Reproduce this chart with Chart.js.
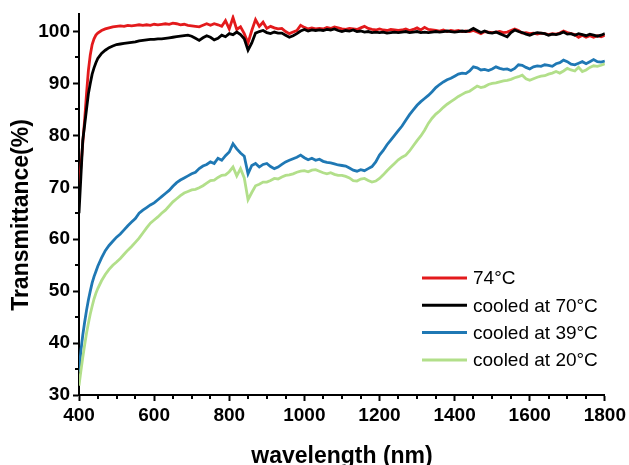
<!DOCTYPE html>
<html>
<head>
<meta charset="utf-8">
<script src="https://cdn.jsdelivr.net/npm/chart.js@4.4.0/dist/chart.umd.min.js"></script>
<style>
    html, body { margin: 0; padding: 0; background: #fff; }
</style>
</head>
<body>
<canvas id="specChart" width="629" height="465"></canvas>
<script>
// Wavelength grid (nm)
const wavelengths = [
    400, 405, 410, 415, 420, 425, 430, 435, 440, 445, 450, 460, 470, 480, 490,
    500, 510, 520, 530, 540, 550, 560, 570, 580, 590,
    600, 610, 620, 630, 640, 650, 660, 670, 680, 690,
    700, 710, 720, 730, 740, 750, 760, 770, 780, 790,
    800, 810, 820, 830, 840, 850, 860, 870, 880, 890,
    900, 910, 920, 930, 940, 950, 960, 970, 980, 990,
    1000, 1010, 1020, 1030, 1040, 1050, 1060, 1070, 1080, 1090,
    1100, 1110, 1120, 1130, 1140, 1150, 1160, 1170, 1180, 1190,
    1200, 1210, 1220, 1230, 1240, 1250, 1260, 1270, 1280, 1290,
    1300, 1310, 1320, 1330, 1340, 1350, 1360, 1370, 1380, 1390,
    1400, 1410, 1420, 1430, 1440, 1450, 1460, 1470, 1480, 1490,
    1500, 1510, 1520, 1530, 1540, 1550, 1560, 1570, 1580, 1590,
    1600, 1610, 1620, 1630, 1640, 1650, 1660, 1670, 1680, 1690,
    1700, 1710, 1720, 1730, 1740, 1750, 1760, 1770, 1780, 1790,
    1800
];

// Transmittance (%) per sample
const t74 = [
    70.0, 74.0, 78.5, 83.0, 88.0, 92.5, 95.5, 97.5, 98.6, 99.3, 99.7, 100.2, 100.5, 100.7, 100.9,
    101.0, 101.1, 101.0, 101.2, 101.1, 101.2, 101.3, 101.2, 101.3, 101.2,
    101.4, 101.3, 101.4, 101.5, 101.4, 101.6, 101.5, 101.3, 101.4, 101.2,
    101.1, 101.0, 100.9, 101.2, 101.5, 101.2, 101.5, 101.3, 101.0, 102.1,
    100.5, 102.7, 100.4, 100.9, 99.6, 97.8, 100.2, 102.3, 101.0, 101.8,
    100.6, 101.0, 100.7, 100.5, 100.6, 100.0, 99.6, 99.9, 100.2, 101.2,
    100.8, 100.5, 100.7, 100.5, 100.6, 100.5, 100.8, 100.6, 100.9, 100.7,
    100.5, 100.4, 100.6, 100.5, 100.4, 100.7, 101.0, 100.6, 100.4, 100.3,
    100.5, 100.3, 100.2, 100.4, 100.3, 100.2, 100.3, 100.5, 100.2, 100.4,
    100.7, 100.3, 100.8, 100.4, 100.3, 100.2, 100.1, 100.3, 100.0, 100.2,
    100.1, 100.2, 100.0, 100.1, 100.0, 100.2, 99.9, 99.6, 100.0, 99.9,
    99.8, 99.9, 100.0, 99.8, 99.9, 100.2, 100.5, 100.2, 99.7, 99.8,
    99.6, 99.7, 99.5, 99.7, 99.6, 99.4, 99.6, 99.5, 99.7, 100.1,
    99.8, 99.6, 99.4, 98.9, 99.3, 98.9, 99.2, 98.9, 99.2, 99.0,
    99.3
];

const t70 = [
    65.0, 72.0, 79.0, 82.0, 85.0, 88.0, 90.0, 91.8, 93.0, 94.0, 94.8, 95.8, 96.4, 96.9, 97.2,
    97.5, 97.6, 97.7, 97.8, 97.9, 98.0, 98.2, 98.3, 98.4, 98.5,
    98.5, 98.6, 98.6, 98.7, 98.8, 98.9, 99.0, 99.1, 99.2, 99.3,
    99.1, 98.7, 98.3, 98.8, 99.2, 98.9, 98.4, 98.7, 99.3, 99.0,
    99.6, 99.4, 99.9, 99.4, 98.6, 96.4, 97.8, 99.7, 100.0, 100.2,
    99.8, 99.6, 99.9, 99.7, 99.7, 99.3, 98.9, 99.2, 99.6, 100.1,
    100.4, 100.1, 100.3, 100.2, 100.3, 100.2, 100.4, 100.3, 100.5, 100.2,
    100.0, 100.2, 100.1, 100.3, 100.0, 100.1, 99.9, 100.0, 99.8, 99.9,
    99.8, 99.9, 99.7, 99.8, 99.9, 99.8, 99.9, 100.0, 99.8, 99.9,
    100.0, 99.8, 99.9, 99.8, 99.9, 100.0, 99.9, 100.0, 100.1, 100.0,
    99.9, 100.0, 100.1, 100.0, 100.2, 100.6, 100.2, 99.8, 100.1, 99.8,
    99.7, 99.9, 99.6, 99.3, 99.0, 99.8, 100.3, 100.0, 99.8, 99.5,
    99.3, 99.6, 99.8, 99.7, 99.6, 99.3, 99.5, 99.4, 99.6, 99.9,
    99.5, 99.6, 99.3, 99.6, 99.4, 99.2, 99.5, 99.3, 99.1, 99.3,
    99.6
];

const t39 = [
    34.5, 38.5, 41.5, 44.0, 46.3, 48.3, 50.0, 51.6, 52.8, 53.8, 54.8, 56.4, 57.8, 58.8, 59.6,
    60.4, 61.0, 61.8, 62.6, 63.3, 64.0, 65.0, 65.6, 66.1, 66.6,
    67.0, 67.6, 68.2, 68.8, 69.4, 70.2, 70.9, 71.4, 71.8, 72.2,
    72.6, 72.9, 73.6, 74.1, 74.4, 74.9, 74.6, 75.6, 75.2, 76.1,
    76.8, 78.4, 77.4, 76.6, 76.0, 72.6, 74.2, 74.6, 73.9, 74.4,
    74.6, 74.0, 73.6, 73.9, 74.4, 74.9, 75.2, 75.5, 75.8, 76.2,
    75.7, 75.3, 75.6, 75.2, 75.4, 75.0, 74.8, 74.7, 74.5, 74.3,
    74.2, 74.1, 73.7, 73.3, 73.1, 73.4, 73.2, 73.6, 74.0, 74.9,
    76.2, 77.1, 78.2, 79.1, 80.0, 80.9, 81.8, 82.9, 84.0, 84.9,
    85.8, 86.5, 87.1, 87.7, 88.4, 89.2, 89.8, 90.3, 90.7, 91.0,
    91.4, 91.8, 92.0, 91.9, 92.4, 93.2, 93.0, 92.6, 92.7, 92.5,
    92.8, 93.2, 92.9, 92.7, 92.8, 92.5, 92.9, 93.6, 93.5, 93.1,
    92.8, 93.2, 93.4, 93.3, 93.6, 93.5, 93.3, 93.8, 94.0, 94.5,
    94.2, 93.7, 93.6, 93.9, 94.2, 93.8, 94.2, 94.6, 94.2, 94.1,
    94.3
];

const t20 = [
    31.8, 34.6, 37.2, 39.6, 41.9, 43.8, 45.6, 47.1, 48.5, 49.6, 50.5, 52.0, 53.2, 54.2, 55.0,
    55.6, 56.3, 57.1, 57.9, 58.6, 59.4, 60.2, 61.2, 62.2, 63.1,
    63.7, 64.3, 65.0, 65.6, 66.4, 67.2, 67.8, 68.4, 68.9, 69.2,
    69.5, 69.6, 69.9, 70.3, 70.8, 71.3, 71.4, 71.9, 72.3, 72.4,
    73.0, 73.9, 72.2, 73.6, 71.8, 67.6, 69.0, 70.3, 70.6, 71.0,
    71.0, 71.3, 71.7, 71.6, 72.0, 72.3, 72.4, 72.6, 72.9, 73.1,
    73.2, 73.0, 73.3, 73.4, 73.1, 72.8, 72.6, 72.8, 72.5, 72.3,
    72.3, 72.1, 71.8, 71.3, 71.2, 71.6, 71.7, 71.3, 71.0, 71.2,
    71.7, 72.4, 73.2, 73.9, 74.6, 75.3, 75.8, 76.2, 77.0, 78.0,
    79.0, 79.9, 81.0, 82.3, 83.3, 84.1, 84.7, 85.4, 86.0, 86.5,
    87.0, 87.5, 87.9, 88.3, 88.5, 89.0, 89.5, 89.2, 89.4, 89.8,
    90.0, 90.1, 90.3, 90.5, 90.6, 90.8, 91.1, 91.3, 91.6, 90.9,
    90.6, 90.9, 91.2, 91.4, 91.5, 91.8, 92.0, 92.3, 92.0, 92.4,
    92.9, 92.6, 92.4, 93.1, 92.3, 92.6, 93.1, 93.4, 93.3, 93.5,
    93.8
];

const seriesLabels = ['74\u00B0C', 'cooled at 70\u00B0C', 'cooled at 39\u00B0C', 'cooled at 20\u00B0C'];
const seriesColors = ['#E31A1C', '#000000', '#1F78B4', '#B2DF8A'];

// Axis ticks
const xTicks = [400, 600, 800, 1000, 1200, 1400, 1600, 1800];
const xMinorTicks = [450, 500, 550, 650, 700, 750, 850, 900, 950, 1050, 1100, 1150,
                     1250, 1300, 1350, 1450, 1500, 1550, 1650, 1700, 1750];
const yTicks = [30, 40, 50, 60, 70, 80, 90, 100];
const yMinorTicks = [35, 45, 55, 65, 75, 85, 95];

const FONT = '"Liberation Sans", Arial, Helvetica, sans-serif';

function toPoints(values) {
    return wavelengths.map((w, i) => ({ x: w, y: values[i] }));
}

// Piccole tacche intermedie sugli assi
const minorTicksPlugin = {
    id: 'minorTicks',
    afterDraw(chart) {
        const { ctx, scales: { x, y } } = chart;
        ctx.save();
        ctx.strokeStyle = '#000';
        ctx.lineWidth = 2;
        ctx.beginPath();
        xMinorTicks.forEach(v => {
            const px = Math.round(x.getPixelForValue(v));
            ctx.moveTo(px, x.top);
            ctx.lineTo(px, x.top + 4);
        });
        yMinorTicks.forEach(v => {
            const py = Math.round(y.getPixelForValue(v));
            ctx.moveTo(y.right, py);
            ctx.lineTo(y.right - 4, py);
        });
        ctx.stroke();
        ctx.restore();
    }
};

// Titoli degli assi
const axisTitlesPlugin = {
    id: 'axisTitles',
    afterDraw(chart) {
        const { ctx } = chart;
        const opts = chart.options.plugins.axisTitles;
        ctx.save();
        ctx.fillStyle = '#000';
        ctx.font = `bold ${opts.size}px ${FONT}`;
        ctx.textAlign = 'center';
        ctx.textBaseline = 'middle';
        ctx.fillText(opts.xText, opts.xPos[0], opts.xPos[1]);
        ctx.translate(opts.yPos[0], opts.yPos[1]);
        ctx.rotate(-Math.PI / 2);
        ctx.fillText(opts.yText, 0, 0);
        ctx.restore();
    }
};

// Legenda dentro l'area del grafico
const insideLegendPlugin = {
    id: 'insideLegend',
    afterDraw(chart) {
        const { ctx } = chart;
        const opts = chart.options.plugins.insideLegend;
        ctx.save();
        ctx.font = `${opts.size}px ${FONT}`;
        ctx.textAlign = 'left';
        ctx.textBaseline = 'middle';
        chart.data.datasets.forEach((ds, i) => {
            const y = opts.top + i * opts.rowGap;
            ctx.strokeStyle = ds.borderColor;
            ctx.lineWidth = 3;
            ctx.beginPath();
            ctx.moveTo(opts.left, y);
            ctx.lineTo(opts.left + opts.lineLen, y);
            ctx.stroke();
            ctx.fillStyle = '#000';
            ctx.fillText(ds.label, opts.left + opts.lineLen + opts.textGap, y + 1);
        });
        ctx.restore();
    }
};

const seriesValues = [t74, t70, t39, t20];

const chart = new Chart(document.getElementById('specChart'), {
    type: 'line',
    data: {
        datasets: seriesValues.map((vals, i) => ({
            label: seriesLabels[i],
            data: toPoints(vals),
            borderColor: seriesColors[i],
            backgroundColor: seriesColors[i],
            borderWidth: 2.8,
            pointRadius: 0,
            tension: 0,
            fill: false,
            // later series drawn on top
            order: seriesValues.length - i
        }))
    },
    options: {
        responsive: false,
        animation: false,
        layout: { padding: { left: 0, top: 14, right: 24, bottom: 0 } },
        plugins: {
            legend: { display: false },
            tooltip: { enabled: false },
            axisTitles: {
                size: 23,
                xText: 'wavelength (nm)',
                xPos: [342, 457],
                yText: 'Transmittance(%)',
                yPos: [22, 215]
            },
            insideLegend: { left: 422, top: 278, rowGap: 27.3, lineLen: 45, textGap: 6, size: 19 }
        },
        scales: {
            x: {
                type: 'linear',
                min: 400,
                max: 1800,
                afterFit: (s) => { s.height = 70; },
                afterBuildTicks: (s) => { s.ticks = xTicks.map(v => ({ value: v })); },
                ticks: {
                    color: '#000',
                    font: { family: FONT, size: 19, weight: 'bold' },
                    padding: 3,
                    maxRotation: 0,
                    autoSkip: false,
                    callback: (value) => String(value)
                },
                grid: { display: true, drawOnChartArea: false, drawTicks: true, tickLength: 6, tickWidth: 2, tickColor: '#000' },
                border: { display: true, color: '#000', width: 2 }
            },
            y: {
                type: 'linear',
                min: 30,
                max: 103.3,
                afterFit: (s) => { s.width = 79; },
                afterBuildTicks: (s) => { s.ticks = yTicks.map(v => ({ value: v })); },
                ticks: {
                    color: '#000',
                    font: { family: FONT, size: 19, weight: 'bold' },
                    padding: 3,
                    callback: (value) => String(value)
                },
                grid: { display: true, drawOnChartArea: false, drawTicks: true, tickLength: 6, tickWidth: 2, tickColor: '#000' },
                border: { display: true, color: '#000', width: 2 }
            }
        }
    },
    plugins: [minorTicksPlugin, axisTitlesPlugin, insideLegendPlugin]
});
</script>
</body>
</html>
